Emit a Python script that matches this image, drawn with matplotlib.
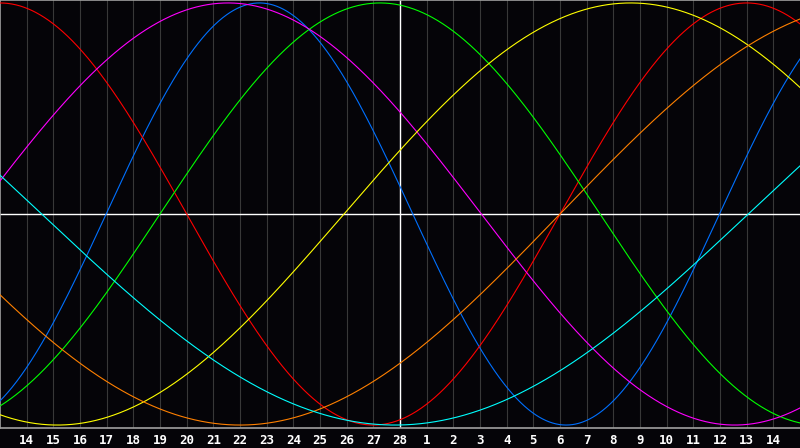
import matplotlib
matplotlib.use("Agg")
import matplotlib.pyplot as plt
import numpy as np

# day labels along the bottom (previous month 14..28, then 1..14)
day_labels = [str(d) for d in range(14, 29)] + [str(d) for d in range(1, 15)]
today_label = "28"

# cycles: length in days and the chart position where each crosses zero going up
cycle_lengths = [23, 28, 33, 38, 43, 48, 53]
cycle_zero_up = [3.98, 21.0, 6.0, -0.95, 12.9, 21.0, -24.94]
cycle_colors = ["#0070ff", "#ff0000", "#00ff00", "#ff00ff", "#ffff00", "#ff8000", "#00ffff"]

bg = "#050408"

fig = plt.figure(figsize=(8, 4.48), dpi=100, facecolor=bg)
ax = fig.add_axes([0, 20 / 448, 1, 428 / 448], facecolor=bg)

n_days = len(day_labels) + 1
ax.set_xlim(0, n_days)
ax.set_ylim(-1.014, 1.014)

# vertical day grid
for i in range(1, n_days):
    ax.axvline(i, color="#383838", lw=0.8, zorder=1)

t = np.linspace(0, n_days, 1200)
for length, zero, col in zip(cycle_lengths, cycle_zero_up, cycle_colors):
    ax.plot(t, np.sin(2 * np.pi * (t - zero) / length), color=col, lw=0.8, zorder=3)

# centre line and today marker
ax.axhline(0, color="white", lw=1.0, zorder=2)
today_pos = day_labels.index(today_label) + 1
ax.axvline(today_pos, color="white", lw=1.0, zorder=2)

ax.set_xticks(range(1, n_days))
ax.set_xticklabels(day_labels)
ax.tick_params(axis="x", length=0, pad=4, colors="white", labelsize=9)
for lab in ax.get_xticklabels():
    lab.set_fontweight("bold")
    lab.set_family("DejaVu Sans Mono")
ax.set_yticks([])

for side in ["left", "top", "bottom"]:
    ax.spines[side].set_color("#a0a0a0")
    ax.spines[side].set_linewidth(1.2)
ax.spines["right"].set_visible(False)

fig.savefig("out.png", dpi=100, facecolor=bg)
